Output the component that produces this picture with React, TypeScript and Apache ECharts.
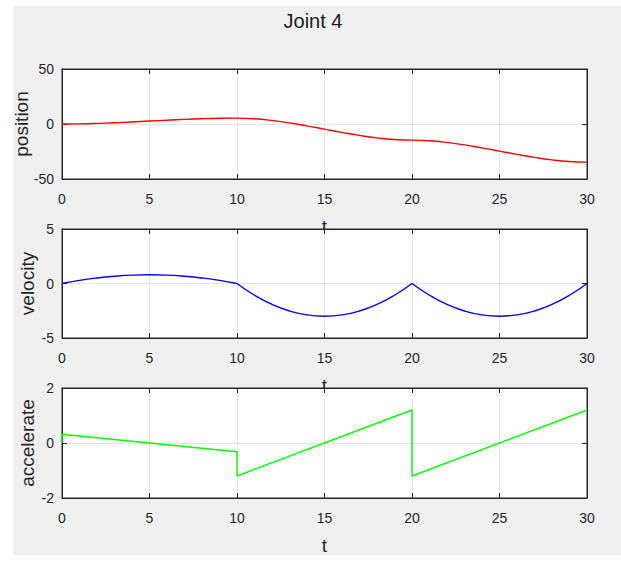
import React, { useEffect, useRef } from "react";
import * as echarts from "echarts";

// Time samples (s) for the joint trajectory
const tSamples = [
  0, 1, 2, 3, 4, 5, 6, 7, 8, 9, 10, 11, 12, 13, 14, 15, 16, 17, 18, 19, 20,
  21, 22, 23, 24, 25, 26, 27, 28, 29, 30,
];

// Joint 4 position
const position = [
  0, 0.15, 0.55, 1.15, 1.88, 2.67, 3.46, 4.18, 4.78, 5.18, 5.33, 4.77, 3.25,
  1.01, -1.71, -4.67, -7.63, -10.35, -12.59, -14.11, -14.67, -15.23, -16.75,
  -18.99, -21.71, -24.67, -27.63, -30.35, -32.59, -34.11, -34.67,
];

// Joint 4 velocity
const velocity = [
  0, 0.29, 0.51, 0.67, 0.77, 0.8, 0.77, 0.67, 0.51, 0.29, 0, -1.08, -1.92,
  -2.52, -2.88, -3, -2.88, -2.52, -1.92, -1.08, 0, -1.08, -1.92, -2.52, -2.88,
  -3, -2.88, -2.52, -1.92, -1.08, 0,
];

// Segment boundaries of the piecewise trajectory (indices into tSamples)
const segmentEnds = [0, 10, 20, 30];

// Joint 4 acceleration (piecewise linear, with jumps at segment boundaries)
const accelT = [0, 0, 10, 10, 20, 20, 30];
const accel = [0, 0.32, -0.32, -1.2, 1.2, -1.2, 1.2];

const xTicks = { min: 0, max: 30, interval: 5 };
const yRanges = [
  { min: -50, max: 50, interval: 50 },
  { min: -5, max: 5, interval: 5 },
  { min: -2, max: 2, interval: 2 },
];
const yNames = ["position", "velocity", "accelerate"];
const title = "Joint 4";
const xName = "t";

const FONT = "'Liberation Sans', Arial, Helvetica, sans-serif";
const AX = "#262626";

const W = 621;
const H = 561;
const gridBoxes = [
  { top: 69, height: 110 },
  { top: 229, height: 109 },
  { top: 388, height: 110 },
];
const LEFT = 62;
const RIGHT = 34;

function pairs(xs: number[], ys: number[]) {
  return xs.map((x, i) => [x, ys[i]]);
}

export default function App() {
  const ref = useRef<HTMLDivElement>(null);

  useEffect(() => {
    document.body.style.margin = "0";
    if (!ref.current) return;
    const chart = echarts.init(ref.current, undefined, { renderer: "svg" });

    const grids = gridBoxes.map((g) => ({
      left: LEFT,
      right: RIGHT,
      top: g.top,
      height: g.height,
      show: true,
      backgroundColor: "#ffffff",
      borderColor: AX,
      borderWidth: 1,
    }));

    const xAxes: any[] = [];
    const yAxes: any[] = [];
    gridBoxes.forEach((_, i) => {
      xAxes.push({
        type: "value",
        gridIndex: i,
        position: "bottom",
        ...xTicks,
        axisLine: { show: true, onZero: false, lineStyle: { color: AX } },
        axisTick: { show: true, inside: true, length: 5, lineStyle: { color: AX } },
        axisLabel: { color: AX, fontFamily: FONT, fontSize: 14, margin: 13 },
        splitLine: { show: true, lineStyle: { color: "#e3e3e3" } },
      });
      xAxes.push({
        type: "value",
        gridIndex: i,
        position: "top",
        ...xTicks,
        axisLine: { show: true, onZero: false, lineStyle: { color: AX } },
        axisTick: { show: true, inside: true, length: 5, lineStyle: { color: AX } },
        axisLabel: { show: false },
        splitLine: { show: false },
      });
      yAxes.push({
        type: "value",
        gridIndex: i,
        position: "left",
        ...yRanges[i],
        axisLine: { show: true, onZero: false, lineStyle: { color: AX } },
        axisTick: { show: true, inside: true, length: 5, lineStyle: { color: AX } },
        axisLabel: { color: AX, fontFamily: FONT, fontSize: 14, margin: 8 },
        splitLine: { show: true, lineStyle: { color: "#e3e3e3" } },
      });
      yAxes.push({
        type: "value",
        gridIndex: i,
        position: "right",
        ...yRanges[i],
        axisLine: { show: true, onZero: false, lineStyle: { color: AX } },
        axisTick: { show: true, inside: true, length: 5, lineStyle: { color: AX } },
        axisLabel: { show: false },
        splitLine: { show: false },
      });
    });

    const lineSeries = (data: number[][], idx: number, color: string, smooth: boolean) => ({
      type: "line",
      xAxisIndex: idx * 2,
      yAxisIndex: idx * 2,
      data,
      smooth: smooth ? 0.5 : false,
      showSymbol: false,
      symbol: "none",
      lineStyle: { color, width: 1.4 },
      silent: true,
    });

    // Split a sampled curve at the segment boundaries so each piece is smoothed separately
    const segmented = (ys: number[], idx: number, color: string) =>
      segmentEnds.slice(1).map((end, k) => {
        const start = segmentEnds[k];
        return lineSeries(
          pairs(tSamples.slice(start, end + 1), ys.slice(start, end + 1)),
          idx,
          color,
          true
        );
      });

    const graphics: any[] = [
      {
        type: "rect",
        z: -10,
        shape: { x: 13, y: 6, width: W - 13, height: 549 },
        style: { fill: "#f0f0f0" },
        silent: true,
      },
      {
        type: "text",
        z: 5,
        x: 313,
        y: 21,
        style: {
          text: title,
          font: `20px ${FONT}`,
          fill: "#1a1a1a",
          align: "center",
          verticalAlign: "middle",
        },
      },
    ];
    const plotCx = LEFT + (W - LEFT - RIGHT) / 2;
    gridBoxes.forEach((g, i) => {
      const cy = g.top + g.height / 2;
      graphics.push({
        type: "text",
        z: 5,
        x: i === 0 ? 21 : 27,
        y: cy,
        rotation: Math.PI / 2,
        style: {
          text: yNames[i],
          font: `19px ${FONT}`,
          fill: AX,
          align: "center",
          verticalAlign: "middle",
        },
      });
      // x-axis name sits under the next panel, so it is drawn below the grids
      graphics.push({
        type: "text",
        z: -1,
        x: plotCx,
        y: g.top + g.height + 38,
        style: {
          text: xName,
          font: `19px ${FONT}`,
          fill: AX,
          align: "center",
          verticalAlign: "top",
        },
      });
    });

    chart.setOption({
      animation: false,
      backgroundColor: "#ffffff",
      grid: grids,
      xAxis: xAxes,
      yAxis: yAxes,
      graphic: graphics,
      series: [
        ...segmented(position, 0, "#ff0000"),
        ...segmented(velocity, 1, "#0000ff"),
        lineSeries(pairs(accelT, accel), 2, "#00ff00", false),
      ],
    });

    return () => chart.dispose();
  }, []);

  return <div ref={ref} style={{ width: W, height: H }} />;
}
